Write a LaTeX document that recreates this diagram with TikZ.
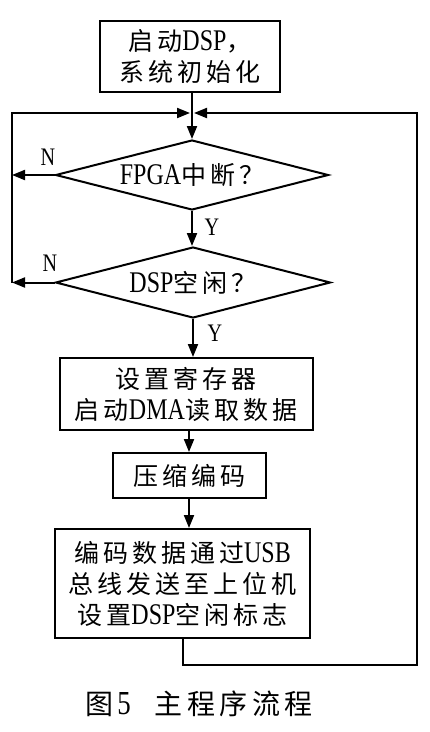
\documentclass[tikz,border=0pt]{standalone}
\usepackage{fontspec}
\usepackage{tikz}
\usetikzlibrary{shapes.geometric,arrows.meta}
\setmainfont{Noto Sans CJK SC}[LetterSpace=16]
\newfontfamily\en{Liberation Serif}[FakeStretch=0.8,Scale=1.2]

\begin{document}
\begin{tikzpicture}[x=1pt,y=-1pt]
            \tikzstyle{box}=[rectangle,draw=black,line width=2pt,align=center,inner sep=0pt,font=\fontsize{25}{31}\selectfont]
            \tikzstyle{test}=[diamond,draw=black,line width=2pt,inner sep=0pt,aspect=4,font=\fontsize{25}{31}\selectfont]
            \tikzstyle{flow}=[line width=2pt,-{Triangle[length=13pt,width=10pt]}]
            \tikzstyle{tag}=[inner sep=0pt,font=\en\fontsize{21}{24}\selectfont]
                \useasboundingbox (0,0) rectangle (430,732);

                \node[box,minimum width=180pt,minimum height=71pt] (start) at (190, 56.5){启动{\en DSP}，\\系统初始化};
                \node[test,minimum width=273pt,minimum height=70pt] (q1) at (192, 175){{\en FPGA}中断？};
                \node[test,minimum width=275pt,minimum height=71pt] (q2) at (193, 282.5){{\en DSP}空闲？};
                \node[box,minimum width=253pt,minimum height=72pt] (setreg) at (186, 394){设置寄存器\\启动{\en DMA}读取数据};
                \node[box,minimum width=153pt,minimum height=45pt] (comp) at (189, 475.5){压缩编码};
                \node[box,minimum width=255pt,minimum height=109pt] (send) at (182.5, 583.5){编码数据通过{\en USB}\\总线发送至上位机\\设置{\en DSP}空闲标志};

                \node[tag] (n-1) at (48, 157){N};
                \node[tag] (n-2) at (50, 263){N};
                \node[tag] (y-1) at (212, 227){Y};
                \node[tag] (y-2) at (215, 333){Y};

                \node[inner sep=0pt,font=\fontsize{28}{32}\selectfont] (title) at (199, 704){图\hspace{4pt}{\en 5}\hspace{24pt}主程序流程};

                \coordinate (rail) at (12, 113);
                \coordinate (join) at (q1.north |- rail);
                \coordinate (back) at (417, 665);

                \draw[flow] (start.south -| q1.north) -- (q1.north);
                \draw[flow] (q1.south) -- (q1.south |- q2.north);
                \draw[flow] (q2.south) -- (q2.south |- setreg.north);
                \draw[flow] (comp.north |- setreg.south) -- (comp.north);
                \draw[flow] (comp.south) -- (comp.south |- send.north);

                \draw[flow] (q1.west) -- (q1.west -| rail);
                \draw[flow] (q2.west) -- (q2.west -| rail);
                \draw[flow] (q2.west -| rail) -- (rail) -- ([xshift=-2pt]join);
                \draw[flow] (send.south) |- (back) -- (back |- join) -- ([xshift=2pt]join);
        \end{tikzpicture}
\end{document}
